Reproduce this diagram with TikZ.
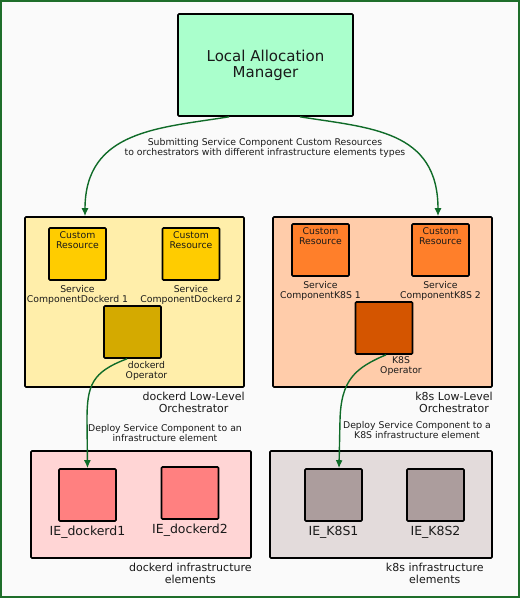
\documentclass[tikz,border=0pt]{standalone}
\usepackage{fontspec}
\setmainfont{DejaVu Sans}
\usetikzlibrary{arrows.meta}
\definecolor{framegreen}{HTML}{1E6E2A}
\definecolor{arrowgreen}{HTML}{0F6B28}
\definecolor{bgpaper}{HTML}{FAFAFA}
\definecolor{textgray}{HTML}{1A1A1A}
\definecolor{lamfill}{HTML}{AAFFCC}
\definecolor{orchdfill}{HTML}{FFEEAA}
\definecolor{orchkfill}{HTML}{FFCCAA}
\definecolor{crdfill}{HTML}{FFCC00}
\definecolor{crkfill}{HTML}{FF7F2A}
\definecolor{opdfill}{HTML}{D4AA00}
\definecolor{opkfill}{HTML}{D45500}
\definecolor{infradfill}{HTML}{FFD5D5}
\definecolor{infrakfill}{HTML}{E3DBDB}
\definecolor{iedfill}{HTML}{FF8080}
\definecolor{iekfill}{HTML}{AC9D9D}
\tikzset{
	boxnode/.style = {rectangle, draw=black, line width=1.6pt, rounded corners=1pt,
		inner sep=0pt, align=center, text=textgray},
	lam_n/.style = {boxnode, fill=lamfill, minimum width=175pt, minimum height=102pt,
		font=\fontsize{15}{16}\selectfont},% local allocation manager
	orch_d/.style = {boxnode, fill=orchdfill, minimum width=219pt, minimum height=170pt},% orchestrateur dockerd
	orch_k/.style = {boxnode, fill=orchkfill, minimum width=219pt, minimum height=170pt},% orchestrateur k8s
	sq_n/.style = {boxnode, minimum width=57pt, minimum height=52pt},
	cr_d/.style = {sq_n, fill=crdfill},% custom resource dockerd
	cr_k/.style = {sq_n, fill=crkfill},% custom resource k8s
	op_d/.style = {sq_n, fill=opdfill},% operateur dockerd
	op_k/.style = {sq_n, fill=opkfill},% operateur k8s
	infra_d/.style = {boxnode, fill=infradfill, minimum width=220pt, minimum height=107pt},
	infra_k/.style = {boxnode, fill=infrakfill, minimum width=222pt, minimum height=107pt},
	ie_d/.style = {sq_n, fill=iedfill},
	ie_k/.style = {sq_n, fill=iekfill},
	small_lbl/.style = {align=center, inner sep=0pt, text=textgray,
		font=\fontsize{9.3}{10}\selectfont},
	cr_txt/.style = {small_lbl, anchor=north, yshift=-4pt},
	sc_lbl/.style = {small_lbl, label distance=4.5pt},
	op_lbl/.style = {small_lbl, anchor=north, xshift=14pt, yshift=-2pt},
	grp_lbl/.style = {align=center, inner sep=0pt, text=textgray, anchor=north east,
		label distance=0pt, yshift=-4.5pt, font=\fontsize{11}{11.5}\selectfont},
	ie_lbl/.style = {inner sep=0pt, text=textgray, label distance=4pt,
		font=\fontsize{12.5}{14}\selectfont},
	flow/.style = {->, draw=arrowgreen, line width=1.4pt}
}
\begin{document}
\begin{tikzpicture}[x=1pt,y=-1pt,>={Latex[length=8pt,width=7pt]}]
	\useasboundingbox (0,0) rectangle (521,599);
	\draw[draw=framegreen, fill=bgpaper, line width=1.6pt] (1,1) rectangle (519,597);

	\node[lam_n] (lam) at (265.5,65) {Local Allocation\\Manager};

	% orchestrateurs
	\node[orch_d, label={[grp_lbl]south east:dockerd Low-Level\\Orchestrator}] (orch_d) at (134.5,302) {};
	\node[orch_k, label={[grp_lbl]south east:k8s Low-Level\\Orchestrator}] (orch_k) at (382.5,302) {};

	\node[cr_d, label={[cr_txt]north:Custom\\Resource},
		label={[sc_lbl]south:Service\\ComponentDockerd 1}] (cr_d1) at (77.5,254) {};
	\node[cr_d, label={[cr_txt]north:Custom\\Resource},
		label={[sc_lbl]south:Service\\ComponentDockerd 2}] (cr_d2) at (191,254) {};
	\node[op_d, label={[op_lbl]south:dockerd\\Operator}] (op_d) at (132.5,332) {};

	\node[cr_k, label={[cr_txt]north:Custom\\Resource},
		label={[sc_lbl]south:Service\\ComponentK8S 1}] (cr_k1) at (320.5,250) {};
	\node[cr_k, label={[cr_txt]north:Custom\\Resource},
		label={[sc_lbl]south:Service\\ComponentK8S 2}] (cr_k2) at (440.5,250) {};
	\node[op_k, label={[op_lbl, xshift=3pt]south:K8S\\Operator}] (op_k) at (384,328) {};

	% elements d'infrastructure
	\node[infra_d, label={[grp_lbl]south east:dockerd infrastructure\\elements}] (infra_d) at (141,504.5) {};
	\node[infra_k, label={[grp_lbl, xshift=-9pt]south east:k8s infrastructure\\elements}] (infra_k) at (381,504.5) {};

	\node[ie_d, label={[ie_lbl]south:IE\_dockerd1}] (ie_d1) at (87.5,495) {};
	\node[ie_d, label={[ie_lbl]south:IE\_dockerd2}] (ie_d2) at (190,493) {};
	\node[ie_k, label={[ie_lbl]south:IE\_K8S1}] (ie_k1) at (333.5,495) {};
	\node[ie_k, label={[ie_lbl]south:IE\_K8S2}] (ie_k2) at (435.5,495) {};

	% textes des fleches
	\node[small_lbl] (submit_lbl) at (265,147.5) {Submitting Service Component Custom Resources\\to orchestrators with different infrastructure elements types};
	\node[small_lbl] (deploy_d_lbl) at (165,433.5) {Deploy Service Component to an\\infrastructure element};
	\node[small_lbl] (deploy_k_lbl) at (417,430.5) {Deploy Service Component to a\\K8S infrastructure element};

	% fleches
	\draw[flow] ([xshift=-36.5pt]lam.south) .. controls (160,128) and (85,130) .. ([xshift=-49.5pt]orch_d.north);
	\draw[flow] ([xshift=34.5pt]lam.south) .. controls (370,128) and (438,130) .. ([xshift=55.5pt]orch_k.north);
	\draw[flow] ([xshift=-5.5pt]op_d.south) .. controls (92,372) and (87,385) .. (87,420) -- (ie_d1.north);
	\draw[flow] ([xshift=2pt]op_k.south) .. controls (355,368) and (341,380) .. (340,420) -- ([xshift=5.5pt]ie_k1.north);
\end{tikzpicture}
\end{document}
